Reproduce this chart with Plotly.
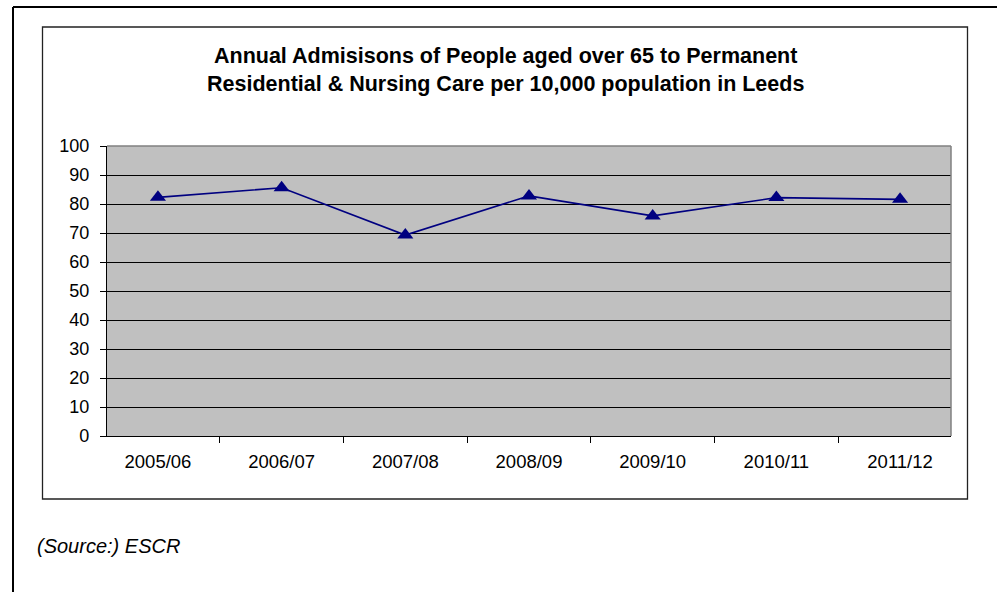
import plotly.graph_objects as go

categories = ["2005/06", "2006/07", "2007/08", "2008/09", "2009/10", "2010/11", "2011/12"]
admissions = [82.3, 85.6, 69.3, 82.8, 75.9, 82.2, 81.6]
y_ticks = [0, 10, 20, 30, 40, 50, 60, 70, 80, 90, 100]

title_lines = ["Annual Admisisons of People aged over 65 to Permanent",
               "Residential & Nursing Care per 10,000 population in Leeds"]
source_text = "(Source:) ESCR"

W, H = 997, 592
PL, PT, PR, PB = 107, 146, 951, 436  # plot area in pixels
FONT = "Liberation Sans, Arial, sans-serif"


def px(x):
    return (x - PL) / (PR - PL)


def py(y):
    return (PB - y) / (PB - PT)


fig = go.Figure()
fig.add_trace(go.Scatter(
    x=categories, y=admissions, mode="lines+markers",
    line=dict(color="#000080", width=1.6),
    marker=dict(symbol="triangle-up", size=14, color="#000080"),
    showlegend=False, hoverinfo="x+y",
))

shapes = [
    # outer border (left and top)
    dict(type="line", xref="paper", yref="paper", x0=px(13), x1=px(13), y0=py(7), y1=py(H + 5),
         line=dict(color="black", width=2)),
    dict(type="line", xref="paper", yref="paper", x0=px(13), x1=px(W + 5), y0=py(7), y1=py(7),
         line=dict(color="black", width=2)),
    # chart box
    dict(type="rect", xref="paper", yref="paper", x0=px(42.5), x1=px(967.5), y0=py(27), y1=py(499),
         line=dict(color="#222222", width=1.3), layer="below"),
    # plot area top/right border
    dict(type="line", xref="paper", yref="paper", x0=0, x1=1, y0=1, y1=1,
         line=dict(color="#808080", width=1.5), layer="above"),
    dict(type="line", xref="paper", yref="paper", x0=1, x1=1, y0=0, y1=1,
         line=dict(color="#808080", width=1.5), layer="above"),
]

annotations = [
    dict(text="<b>" + "<br>".join(title_lines) + "</b>", xref="paper", yref="paper",
         x=px(505), y=py(70), xanchor="center", yanchor="middle", showarrow=False,
         font=dict(family=FONT, size=21.5, color="black"), align="center"),
    dict(text="<i>" + source_text + "</i>", xref="paper", yref="paper",
         x=px(35), y=py(546), xanchor="left", yanchor="middle", showarrow=False,
         font=dict(family=FONT, size=20, color="black")),
]

fig.update_layout(
    width=W, height=H,
    margin=dict(l=PL, r=W - PR, t=PT, b=H - PB, pad=0),
    paper_bgcolor="white", plot_bgcolor="#C0C0C0",
    font=dict(family=FONT, size=18, color="black"),
    shapes=shapes, annotations=annotations,
    xaxis=dict(type="category", showgrid=False, showline=True, linecolor="black", linewidth=1.3,
               ticks="outside", ticklen=6, tickcolor="black", tickson="boundaries",
               ticklabelstandoff=9, tickfont=dict(size=18.5), fixedrange=True),
    yaxis=dict(range=[0, 100], tickvals=y_ticks, showgrid=True, gridcolor="black", gridwidth=1,
               zeroline=False, showline=True, linecolor="black", linewidth=1.3,
               ticks="outside", ticklen=6, tickcolor="black", ticklabelstandoff=7,
               tickfont=dict(size=18), fixedrange=True),
)

fig.write_html("out.html")
